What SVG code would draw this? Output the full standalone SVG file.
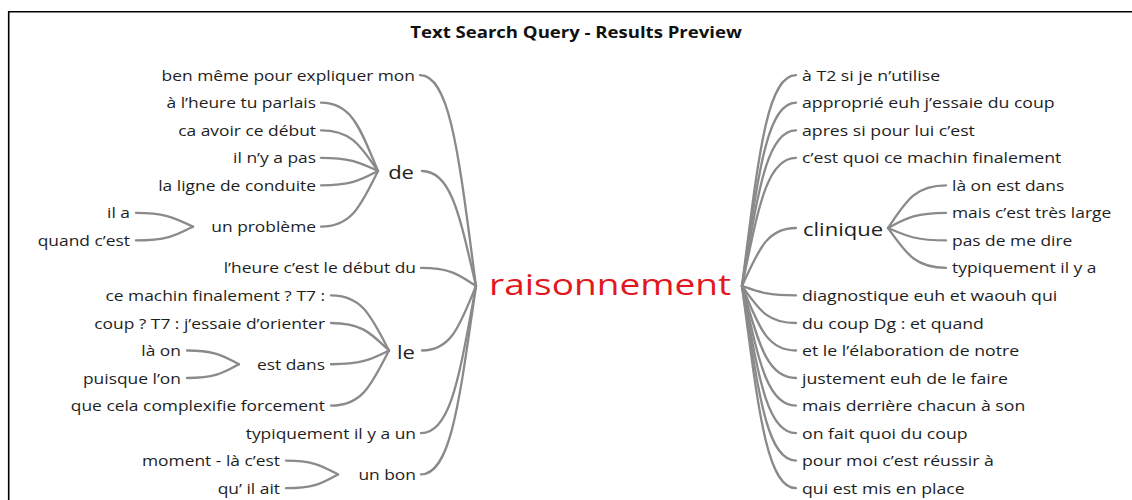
<svg xmlns="http://www.w3.org/2000/svg" width="1132" height="500" viewBox="0 0 1132 500">
<style>
text{font-family:"Open Sans","Noto Sans","Liberation Sans",sans-serif;fill:#1e1e1e}
.t{font-size:15px}
.b{font-size:19px}
.e{text-anchor:end}
.c{font-size:30px;fill:#e3171e}
.h{font-size:16px;font-weight:bold;text-anchor:middle;fill:#111}
#links path{fill:none;stroke:#8a8a8a;stroke-width:2.3;stroke-linecap:round}
</style>
<rect width="1132" height="500" fill="#fff"/>
<path d="M8.7 500 V11.7 H1132" fill="none" stroke="#000" stroke-width="1.6"/>
<text class="h" transform="translate(576 38) scale(1.16 1)">Text Search Query - Results Preview</text>
<g id="links">
<path d="M476 286 C459.2 159.5 450.8 75.2 420 75.2"/>
<path d="M476 286 C459.8 217 451.7 171 422 171"/>
<path d="M476 286 C459.5 275.3 451.25 267.9 421 267.9"/>
<path d="M476 286 C459.8 324.9 451.7 350.5 422 350.5"/>
<path d="M476 286 C459.5 374.4 451.25 433.1 421 433.1"/>
<path d="M476 286 C459.5 399.2 451.25 474.4 421 474.4"/>
<path d="M378 171 C360.9 130.2 352.35 102.7 321 102.7"/>
<path d="M378 171 C360.9 146.8 352.35 130.3 321 130.3"/>
<path d="M378 171 C360.9 163.3 352.35 157.8 321 157.8"/>
<path d="M378 171 C360.9 179.8 352.35 185.3 321 185.3"/>
<path d="M378 171 C360.9 204.7 352.35 226.65 321 226.65"/>
<path d="M193 226.65 C175.9 218.8 167.35 212.9 136 212.9"/>
<path d="M193 226.65 C175.9 235.3 167.35 240.4 136 240.4"/>
<path d="M389 350.5 C371.6 317.7 362.9 295.4 331 295.4"/>
<path d="M389 350.5 C371.6 334.3 362.9 323 331 323"/>
<path d="M389 350.5 C371.6 359 362.9 364.25 331 364.25"/>
<path d="M389 350.5 C371.6 383.9 362.9 405.6 331 405.6"/>
<path d="M239 364.25 C223.4 356.3 215.6 350.5 187 350.5"/>
<path d="M239 364.25 C223.4 372.8 215.6 378 187 378"/>
<path d="M338 474.4 C322.4 466.4 314.6 460.6 286 460.6"/>
<path d="M338 474.4 C322.4 483 314.6 488.2 286 488.2"/>
<path d="M742 286 C758.2 159.5 766.3 75.2 796 75.2"/>
<path d="M742 286 C758.2 176 766.3 102.7 796 102.7"/>
<path d="M742 286 C758.2 192.6 766.3 130.3 796 130.3"/>
<path d="M742 286 C758.2 209.1 766.3 157.8 796 157.8"/>
<path d="M742 286 C758.2 251.2 766.3 228 796 228"/>
<path d="M742 286 C758.2 291.7 766.3 295.4 796 295.4"/>
<path d="M742 286 C758.2 308.2 766.3 323 796 323"/>
<path d="M742 286 C758.2 324.7 766.3 350.5 796 350.5"/>
<path d="M742 286 C758.2 341.2 766.3 378 796 378"/>
<path d="M742 286 C758.2 357.8 766.3 405.6 796 405.6"/>
<path d="M742 286 C758.2 374.3 766.3 433.1 796 433.1"/>
<path d="M742 286 C758.2 390.8 766.3 460.6 796 460.6"/>
<path d="M742 286 C758.2 407.3 766.3 488.2 796 488.2"/>
<path d="M888 228 C905.4 202.4 914.1 185.3 946 185.3"/>
<path d="M888 228 C905.4 218.9 914.1 212.9 946 212.9"/>
<path d="M888 228 C905.4 235.4 914.1 240.4 946 240.4"/>
<path d="M888 228 C905.4 251.9 914.1 267.9 946 267.9"/>
</g>
<g id="n-center"><text class="c" transform="translate(489 295) scale(1.235 1)">raisonnement</text></g>
<g id="n-ben"><text class="t e" transform="translate(415 80.7) scale(1.16 1)">ben même pour expliquer mon</text></g>
<g id="n-de"><text class="b e" transform="translate(414 179) scale(1.16 1)">de</text></g>
<g id="n-de1"><text class="t e" transform="translate(316 108.2) scale(1.16 1)">à l’heure tu parlais</text></g>
<g id="n-de2"><text class="t e" transform="translate(316 135.8) scale(1.16 1)">ca avoir ce début</text></g>
<g id="n-de3"><text class="t e" transform="translate(316 163.3) scale(1.16 1)">il n’y a pas</text></g>
<g id="n-de4"><text class="t e" transform="translate(316 190.8) scale(1.16 1)">la ligne de conduite</text></g>
<g id="n-probleme"><text class="t e" transform="translate(316 232.2) scale(1.16 1)">un problème</text></g>
<g id="n-ila"><text class="t e" transform="translate(130 218.4) scale(1.16 1)">il a</text></g>
<g id="n-quand"><text class="t e" transform="translate(130 245.9) scale(1.16 1)">quand c’est</text></g>
<g id="n-lheure"><text class="t e" transform="translate(416 273.4) scale(1.16 1)">l’heure c’est le début du</text></g>
<g id="n-le"><text class="b e" transform="translate(415 358.5) scale(1.16 1)">le</text></g>
<g id="n-le1"><text class="t e" transform="translate(325 300.9) scale(1.16 1)">ce machin finalement ? T7 :</text></g>
<g id="n-le2"><text class="t e" transform="translate(325 328.5) scale(1.16 1)">coup ? T7 : j’essaie d’orienter</text></g>
<g id="n-estdans"><text class="t e" transform="translate(325 369.8) scale(1.16 1)">est dans</text></g>
<g id="n-laon"><text class="t e" transform="translate(181 356) scale(1.16 1)">là on</text></g>
<g id="n-puisque"><text class="t e" transform="translate(181 383.5) scale(1.16 1)">puisque l’on</text></g>
<g id="n-le4"><text class="t e" transform="translate(325 411.1) scale(1.16 1)">que cela complexifie forcement</text></g>
<g id="n-typ"><text class="t e" transform="translate(416 438.6) scale(1.16 1)">typiquement il y a un</text></g>
<g id="n-unbon"><text class="t e" transform="translate(416 479.9) scale(1.16 1)">un bon</text></g>
<g id="n-moment"><text class="t e" transform="translate(280 466.1) scale(1.16 1)">moment - là c’est</text></g>
<g id="n-quil"><text class="t e" transform="translate(280 493.7) scale(1.16 1)">qu’ il ait</text></g>
<g id="n-r0"><text class="t" transform="translate(802 80.7) scale(1.18 1)">à T2 si je n’utilise</text></g>
<g id="n-r1"><text class="t" transform="translate(802 108.2) scale(1.18 1)">approprié euh j’essaie du coup</text></g>
<g id="n-r2"><text class="t" transform="translate(802 135.8) scale(1.18 1)">apres si pour lui c’est</text></g>
<g id="n-r3"><text class="t" transform="translate(802 163.3) scale(1.18 1)">c’est quoi ce machin finalement</text></g>
<g id="n-clinique"><text class="b" transform="translate(803 236) scale(1.16 1)">clinique</text></g>
<g id="n-c1"><text class="t" transform="translate(952 190.8) scale(1.16 1)">là on est dans</text></g>
<g id="n-c2"><text class="t" transform="translate(952 218.4) scale(1.16 1)">mais c’est très large</text></g>
<g id="n-c3"><text class="t" transform="translate(952 245.9) scale(1.16 1)">pas de me dire</text></g>
<g id="n-c4"><text class="t" transform="translate(952 273.4) scale(1.16 1)">typiquement il y a</text></g>
<g id="n-r8"><text class="t" transform="translate(802 300.9) scale(1.18 1)">diagnostique euh et waouh qui</text></g>
<g id="n-r9"><text class="t" transform="translate(802 328.5) scale(1.18 1)">du coup Dg : et quand</text></g>
<g id="n-r10"><text class="t" transform="translate(802 356) scale(1.18 1)">et le l’élaboration de notre</text></g>
<g id="n-r11"><text class="t" transform="translate(802 383.5) scale(1.18 1)">justement euh de le faire</text></g>
<g id="n-r12"><text class="t" transform="translate(802 411.1) scale(1.18 1)">mais derrière chacun à son</text></g>
<g id="n-r13"><text class="t" transform="translate(802 438.6) scale(1.18 1)">on fait quoi du coup</text></g>
<g id="n-r14"><text class="t" transform="translate(802 466.1) scale(1.18 1)">pour moi c’est réussir à</text></g>
<g id="n-r15"><text class="t" transform="translate(802 493.7) scale(1.18 1)">qui est mis en place</text></g>
</svg>
